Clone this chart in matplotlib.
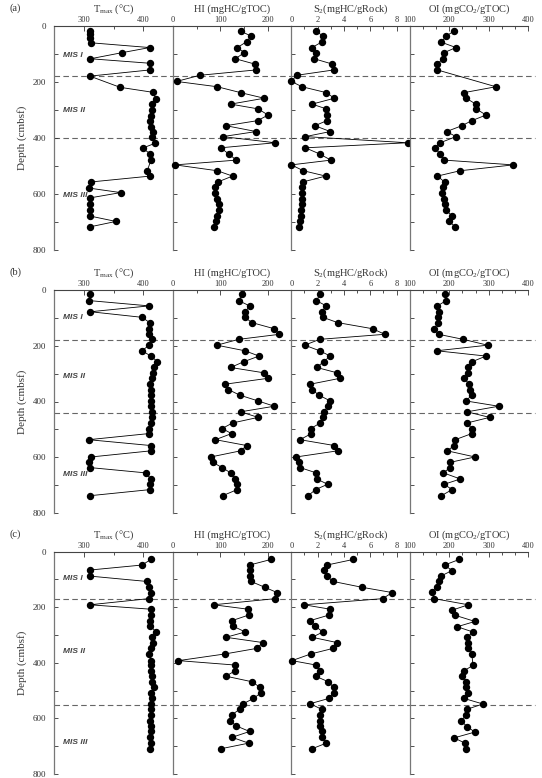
import matplotlib
matplotlib.use("Agg")
import matplotlib.pyplot as plt
from matplotlib.ticker import MultipleLocator

plt.rcParams["font.family"] = ["Liberation Serif", "DejaVu Serif"]
plt.rcParams["mathtext.fontset"] = "custom"
plt.rcParams["mathtext.rm"] = "Liberation Serif"
plt.rcParams["mathtext.it"] = "Liberation Serif:italic"

# ---- row (a) ----
depth_a_tmax = [18, 30, 42, 60, 77, 95, 117, 133, 157, 179, 219, 237, 260, 280, 300, 320, 339, 360,
                379, 395, 419, 436, 457, 479, 517, 536, 557, 579, 595, 614, 636, 657, 679, 698, 717]
tmax_a = [311, 311, 311, 312, 411, 365, 311, 411, 411, 310, 361, 417, 421, 415, 415, 413, 412, 413,
          416, 415, 420, 399, 412, 413, 407, 412, 312, 309, 362, 310, 310, 310, 311, 354, 311]
depth_a = [18, 36, 56, 77, 95, 117, 136, 157, 176, 198, 217, 238, 258, 279, 296, 318, 338, 356,
           377, 395, 417, 435, 457, 479, 496, 517, 536, 557, 576, 595, 617, 636, 657, 679, 698, 717]
hi_a = [143, 165, 156, 136, 151, 132, 173, 175, 57, 8, 94, 143, 193, 122, 180, 201, 179, 112,
        176, 105, 216, 101, 118, 134, 5, 94, 126, 95, 90, 88, 94, 98, 98, 94, 91, 87]
s2_a = [1.89, 2.4, 2.35, 1.58, 1.84, 1.74, 3.12, 3.22, 0.41, 0.0, 0.82, 2.66, 3.27, 1.58, 2.66, 2.71,
        2.71, 1.79, 2.96, 1.07, 8.83, 1.07, 2.15, 3.01, 0.0, 0.92, 2.61, 0.87, 0.82, 0.82, 0.82, 0.82,
        0.77, 0.72, 0.66, 0.56]
depth_a_oi = [18, 36, 58, 77, 95, 117, 136, 157, 217, 238, 258, 279, 296, 318, 338, 356, 377, 395,
              417, 435, 457, 479, 496, 517, 536, 557, 576, 595, 617, 636, 657, 679, 698, 717]
oi_a = [212, 192, 180, 217, 187, 183, 170, 170, 318, 237, 243, 267, 268, 293, 257, 232, 193, 217,
        177, 163, 177, 187, 362, 227, 170, 188, 183, 182, 187, 190, 192, 207, 200, 215]

# ---- row (b) ----
depth_b = [16, 38, 57, 78, 98, 117, 139, 159, 177, 198, 218, 237, 257, 278, 297, 317, 338, 357,
           377, 398, 417, 437, 457, 477, 497, 515, 537, 558, 577, 599, 618, 637, 656, 678, 697, 716, 738]
tmax_b = [311, 309, 410, 311, 398, 411, 410, 409, 415, 410, 398, 413, 424, 419, 416, 415, 412, 413,
          413, 413, 413, 415, 415, 413, 410, 410, 308, 413, 413, 312, 309, 310, 404, 413, 411, 412, 310]
hi_b = [146, 139, 162, 153, 152, 167, 214, 225, 139, 93, 152, 182, 150, 122, 192, 200, 110, 117,
        141, 180, 214, 143, 180, 126, 104, 124, 90, 156, 143, 80, 84, 104, 122, 132, 135, 136, 105]
s2_b = [2.2, 1.89, 2.66, 2.3, 2.4, 3.52, 6.18, 7.1, 2.15, 1.02, 2.15, 2.96, 2.45, 1.94, 3.47, 3.68,
        1.43, 1.58, 2.09, 2.96, 2.81, 2.45, 2.4, 2.2, 1.48, 1.53, 0.66, 3.27, 3.52, 0.36, 0.61, 0.66,
        1.89, 1.94, 2.76, 1.84, 1.28]
oi_b = [190, 192, 170, 173, 172, 172, 162, 173, 235, 297, 168, 293, 258, 247, 248, 238, 250, 253,
        257, 242, 325, 245, 302, 245, 257, 257, 215, 212, 195, 265, 203, 202, 185, 228, 187, 207, 180]

# ---- row (c) ----
depth_c = [28, 48, 66, 88, 107, 128, 147, 169, 191, 207, 228, 248, 267, 289, 308, 327, 348, 368,
           392, 408, 428, 448, 468, 488, 507, 528, 547, 567, 588, 608, 627, 647, 668, 689, 709]
tmax_c = [413, 398, 310, 311, 406, 410, 413, 409, 310, 413, 413, 412, 412, 422, 415, 416, 413, 410,
          413, 413, 413, 415, 415, 418, 413, 415, 413, 413, 413, 412, 413, 413, 412, 413, 412]
hi_c = [207, 162, 163, 163, 165, 194, 220, 216, 86, 159, 160, 125, 126, 153, 112, 190, 177, 110,
        12, 132, 132, 112, 167, 184, 187, 170, 149, 141, 124, 121, 134, 162, 125, 160, 102]
s2_c = [4.7, 2.71, 2.45, 2.71, 3.17, 5.36, 7.66, 6.94, 0.97, 2.96, 2.86, 1.43, 1.79, 2.4, 1.58, 3.47,
        3.17, 1.48, 0.05, 1.89, 2.15, 1.84, 2.81, 3.22, 3.22, 2.86, 1.43, 2.3, 2.15, 2.15, 2.2, 2.3,
        2.35, 2.66, 1.58]
depth_c_oi = [28, 48, 68, 88, 107, 126, 145, 169, 191, 210, 229, 251, 270, 289, 308, 327, 347, 368,
              409, 428, 447, 469, 488, 507, 528, 548, 567, 588, 608, 630, 649, 670, 689, 709]
oi_c = [225, 188, 207, 178, 173, 168, 155, 162, 248, 208, 215, 265, 220, 260, 245, 248, 247, 257,
        260, 238, 232, 242, 243, 247, 237, 285, 245, 243, 230, 245, 265, 212, 240, 243]

row_labels = ["(a)", "(b)", "(c)"]
boundaries = [[180, 400], [180, 440], [170, 550]]
mis_depths = [[104, 300, 607], [100, 311, 661], [95, 358, 686]]
mis_names = ["MIS I", "MIS II", "MIS III"]

titles = [r"T$_{\rm max}$ (°C)", "HI (mgHC/gTOC)", r"S$_2$(mgHC/gRock)", r"OI (mgCO$_2$/gTOC)"]
xlims = [(250, 450), (0, 250), (0, 9), (100, 400)]
xmajor = [100, 100, 2, 100]
xminor = [50, 50, 1, 100 / 3]

rows = [
    [(depth_a_tmax, tmax_a), (depth_a, hi_a), (depth_a, s2_a), (depth_a_oi, oi_a)],
    [(depth_b, tmax_b), (depth_b, hi_b), (depth_b, s2_b), (depth_b, oi_b)],
    [(depth_c, tmax_c), (depth_c, hi_c), (depth_c, s2_c), (depth_c_oi, oi_c)],
]

fig = plt.figure(figsize=(5.42, 7.78), dpi=100)
row_top = [26, 290, 551.7]
row_h = [224, 223, 222.3]
W, H = 542.0, 778.0
left0, pw = 54.3, 118.5

for r in range(3):
    bottom = 1 - (row_top[r] + row_h[r]) / H
    for c in range(4):
        ax = fig.add_axes([(left0 + c * pw) / W, bottom, pw / W, row_h[r] / H])
        d, v = rows[r][c]
        ax.plot(v, d, "-o", color="black", lw=0.6, ms=4.3, zorder=3, clip_on=False)
        ax.set_xlim(*xlims[c])
        ax.set_ylim(800, 0)
        ax.xaxis.tick_top()
        ax.xaxis.set_label_position("top")
        ax.set_xlabel(titles[c], fontsize=7.5, labelpad=3, color="#333333")
        ax.xaxis.set_major_locator(MultipleLocator(xmajor[c]))
        ax.xaxis.set_minor_locator(MultipleLocator(xminor[c]))
        ax.yaxis.set_major_locator(MultipleLocator(200))
        ax.yaxis.set_minor_locator(MultipleLocator(100))
        ax.tick_params(axis="x", which="both", direction="in", labelsize=6, pad=1.5, colors="#333333")
        ax.tick_params(axis="x", which="major", length=3.5, width=0.6)
        ax.tick_params(axis="x", which="minor", length=2.5, width=0.6)
        ax.tick_params(axis="y", which="both", direction="in", labelsize=6.5, pad=6,
                       colors="#333333", width=0.6, length=3)
        for s in ["right", "bottom"]:
            ax.spines[s].set_visible(False)
        ax.spines["left"].set_color("#777777")
        ax.spines["top"].set_color("#444444")
        ax.spines["left"].set_linewidth(0.9)
        ax.spines["top"].set_linewidth(0.8)
        if c == 0:
            ax.set_ylabel("Depth (cmbsf)", fontsize=8, color="#333333", labelpad=4)
            for name, md in zip(mis_names, mis_depths[r]):
                ax.text(265, md, name, fontsize=6, fontweight="bold", style="italic",
                        family=["Liberation Sans", "DejaVu Sans"], color="#444444",
                        ha="left", va="center")
            ax.text(-0.33, 1.08, row_labels[r], transform=ax.transAxes, fontsize=7.5,
                    color="#333333", ha="center", va="center")
        else:
            ax.tick_params(axis="y", labelleft=False)
        for b in boundaries[r]:
            ax.axhline(b, color="#666666", lw=0.8, ls=(0, (5, 3)), zorder=1,
                       xmax=1.06 if c == 3 else 1, clip_on=False)

fig.savefig("out.png", dpi=100)
